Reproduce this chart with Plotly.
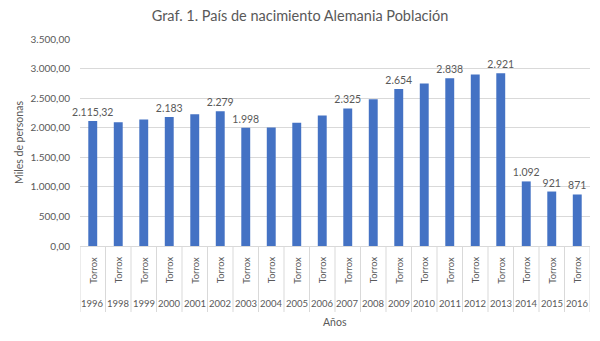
import plotly.graph_objects as go

years = ["1996", "1998", "1999", "2000", "2001", "2002", "2003", "2004", "2005", "2006",
         "2007", "2008", "2009", "2010", "2011", "2012", "2013", "2014", "2015", "2016"]
municipio = ["Torrox"] * len(years)
poblacion = [2115.32, 2094, 2139, 2183, 2229, 2279, 1998, 2003, 2082, 2207,
             2325, 2483, 2654, 2748, 2838, 2900, 2921, 1092, 921, 871]
con_etiqueta = [True, False, False, True, False, True, True, False, False, False,
                True, False, True, False, True, False, True, True, True, True]


def fmt_es(v):
    if float(v).is_integer():
        return f"{int(v):,}".replace(",", ".")
    s = f"{v:,.2f}"
    return s.replace(",", "X").replace(".", ",").replace("X", ".")


etiquetas = [fmt_es(v) if m else "" for v, m in zip(poblacion, con_etiqueta)]

GRIS = "#595959"
LINEA = "#D9D9D9"
FUENTE = "Lato"

# plot area geometry (pixels) used to place the two-level category labels
ALTO, MT, MB = 341, 39, 95
alto_plot = ALTO - MT - MB


def py(px_below_axis):
    return -px_below_axis / alto_plot


n = len(years)
idx = list(range(n))

fig = go.Figure(
    go.Bar(
        x=idx,
        y=poblacion,
        text=etiquetas,
        textposition="outside",
        constraintext="none",
        textfont=dict(family=FUENTE, size=10.5, color=GRIS),
        cliponaxis=False,
        marker=dict(color="#4472C4", line=dict(width=0)),
        hoverinfo="skip",
    )
)

annotations = []
shapes = []
for i, (yr, mun) in enumerate(zip(years, municipio)):
    annotations.append(dict(x=i, xref="x", y=py(24), yref="paper", text=mun, textangle=-90,
                            showarrow=False, xanchor="center", yanchor="middle",
                            font=dict(family=FUENTE, size=9.5, color=GRIS)))
    annotations.append(dict(x=i, xref="x", y=py(57), yref="paper", text=yr,
                            showarrow=False, xanchor="center", yanchor="middle",
                            font=dict(family=FUENTE, size=9.5, color=GRIS)))
for i in range(n + 1):
    shapes.append(dict(type="line", xref="x", yref="paper", x0=i - 0.5, x1=i - 0.5,
                       y0=0, y1=py(66), line=dict(color=LINEA, width=1), layer="below"))

annotations.append(dict(x=0.5, xref="paper", y=py(76), yref="paper", text="Años",
                        showarrow=False, xanchor="center", yanchor="middle",
                        font=dict(family=FUENTE, size=10.5, color=GRIS)))

fig.update_layout(
    width=600,
    height=ALTO,
    paper_bgcolor="white",
    plot_bgcolor="white",
    separators=",.",
    bargap=0.65,
    showlegend=False,
    margin=dict(l=80, r=10, t=MT, b=MB),
    title=dict(
        text="Graf. 1. País de nacimiento Alemania Población",
        x=0.5,
        xanchor="center",
        y=0.953,
        yanchor="middle",
        font=dict(family=FUENTE, size=14.5, color=GRIS),
    ),
    font=dict(family=FUENTE, color=GRIS),
    annotations=annotations,
    shapes=shapes,
)

fig.update_yaxes(
    range=[0, 3500],
    dtick=500,
    tickformat=",.2f",
    showgrid=True,
    gridcolor=LINEA,
    gridwidth=1,
    zeroline=False,
    showline=False,
    ticks="",
    ticklabelstandoff=9,
    tickfont=dict(family=FUENTE, size=10, color=GRIS),
    title=dict(text="Miles de personas", font=dict(family=FUENTE, size=10.5, color=GRIS), standoff=4),
)

fig.update_xaxes(
    range=[-0.5, n - 0.5],
    showticklabels=False,
    showline=True,
    linecolor=LINEA,
    linewidth=1,
    showgrid=False,
    ticks="",
)

fig.write_html("out.html")
